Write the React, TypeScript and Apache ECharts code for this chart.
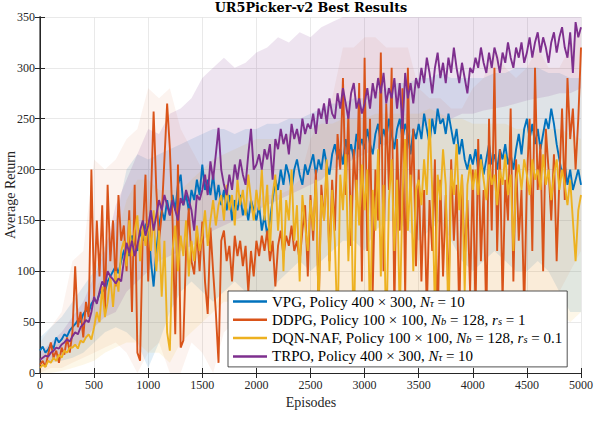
import React, { useEffect, useRef } from "react";
import * as echarts from "echarts";

// ---------- data ----------
const EPISODE_STEP = 25; // line samples every 25 episodes (0..5000)
const BAND_STEP = 100; // band samples every 100 episodes (0..5000)

const X_MIN = 0;
const X_MAX = 5000;
const X_INTERVAL = 500;
const Y_MIN = 0;
const Y_MAX = 350;
const Y_INTERVAL = 50;

const seriesNames = ["VPG", "DDPG", "DQN-NAF", "TRPO"];
const lineColors = ["#0072BD", "#D95319", "#EDB120", "#7E2F8E"];
const bandColors = [
  "rgba(0,114,189,0.12)",
  "rgba(217,83,25,0.07)",
  "rgba(237,177,32,0.10)",
  "rgba(126,47,142,0.13)",
];

const legendLabels = [
  "VPG, Policy 400 × 300, {i|N}{s|τ} = 10",
  "DDPG, Policy 100 × 100, {i|N}{s|b} = 128, {i|r}{s|s} = 1",
  "DQN-NAF, Policy 100 × 100, {i|N}{s|b} = 128, {i|r}{s|s} = 0.1",
  "TRPO, Policy 400 × 300, {i|N}{s|τ} = 10",
];

const titleText = "UR5Picker-v2 Best Results";
const xAxisTitle = "Episodes";
const yAxisTitle = "Average Return";
const captionText = "Fig. 4: Pick&Place Best Results";

const vpg = [
  22, 26, 20, 23, 28, 24, 35, 30, 33, 38, 36, 42, 45, 48, 52, 50, 58, 62, 60, 68,
  72, 70, 78, 82, 80, 90, 95, 100, 105, 98, 110, 120, 125, 115, 135, 128, 120, 140, 130, 145,
  150, 110, 85, 120, 145, 160, 150, 170, 155, 175, 160, 185, 195, 165, 175, 160, 180, 170, 190, 175,
  205, 180, 190, 175, 195, 170, 185, 165, 180, 160, 175, 150, 170, 160, 175, 155, 165, 150, 170, 160,
  150, 165, 140, 155, 135, 150, 170, 190, 180, 200, 185, 205, 195, 180, 200, 210, 195, 185, 205, 195,
  205, 215, 195, 210, 200, 220, 205, 195, 215, 225, 210, 220, 205, 230, 215, 225, 210, 235, 220, 230,
  220, 240, 225, 215, 235, 245, 225, 240, 230, 250, 235, 220, 240, 250, 230, 245, 235, 215, 240, 230,
  245, 230, 255, 240, 225, 250, 235, 260, 245, 250, 235, 255, 240, 225, 240, 215, 230, 210, 200, 215,
  205, 220, 200, 215, 195, 210, 225, 205, 215, 200, 220, 210, 225, 205, 215, 200, 220, 235, 215, 240,
  250, 230, 245, 225, 240, 220, 235, 250, 240, 260, 245, 225, 210, 195, 205, 185, 200, 180, 190, 200,
  185,
];

const ddpg = [
  8, 12, 6, 18, 30, 15, 22, 10, 25, 18, 35, 20, 40, 105, 45, 60, 35, 70, 55, 200,
  75, 150, 95, 165, 60, 185, 110, 150, 85, 175, 130, 145, 100, 160, 60, 185, 20, 12, 140, 195,
  90, 170, 257, 180, 130, 156, 210, 265, 221, 150, 38, 205, 25, 32, 120, 162, 110, 97, 140, 100,
  149, 90, 58, 143, 100, 60, 10, 130, 140, 110, 125, 90, 135, 115, 130, 105, 125, 80, 120, 95,
  130, 115, 135, 120, 140, 110, 130, 85, 125, 140, 115, 135, 125, 145, 120, 130, 110, 140, 165, 95,
  175, 130, 200, 60, 185, 150, 205, 110, 190, 140, 235, 200, 290, 175, 255, 125, 220, 170, 285, 90,
  310, 120, 250, 80, 200, 150, 315, 100, 265, 180, 300, 60, 230, 140, 280, 75, 300, 170, 240, 105,
  200, 90, 180, 60, 170, 120, 210, 40, 190, 95, 175, 70, 210, 130, 185, 55, 195, 110, 170, 80,
  200, 60, 230, 110, 180, 50, 250, 140, 300, 120, 220, 70, 190, 150, 260, 90, 210, 130, 180, 60,
  190, 250, 120, 300, 180, 225, 100, 240, 200, 150, 215, 110, 190, 260, 170, 290, 230, 260, 200, 250,
  320,
];

const dqnNaf = [
  5, 8, 6, 12, 10, 15, 12, 18, 15, 22, 20, 25, 25, 28, 24, 32, 30, 35, 38, 33,
  45, 60, 50, 85, 55, 70, 95, 65, 100, 80, 120, 130, 105, 150, 115, 140, 155, 110, 145, 125,
  150, 120, 160, 100, 140, 75, 130, 40, 22, 120, 145, 100, 135, 115, 150, 95, 130, 110, 145, 120,
  135, 160, 125, 150, 170, 145, 165, 175, 150, 185, 160, 175, 145, 190, 165, 180, 155, 195, 170, 150,
  180, 160, 200, 150, 185, 120, 175, 195, 140, 180, 100, 170, 150, 200, 130, 165, 90, 175, 145, 120,
  170, 140, 190, 60, 175, 150, 210, 100, 180, 130, 40, 195, 160, 215, 110, 175, 30, 190, 145, 205,
  160, 200, 45, 180, 140, 220, 95, 185, 30, 170, 210, 120, 190, 55, 175, 230, 140, 195, 100, 180,
  190, 165, 210, 175, 250, 180, 60, 195, 170, 220, 185, 40, 200, 175, 225, 160, 195, 80, 185, 205,
  180, 200, 175, 210, 190, 170, 205, 185, 195, 165, 200, 185, 215, 175, 195, 120, 190, 205, 180, 210,
  195, 175, 210, 190, 200, 180, 215, 185, 200, 170, 195, 210, 180, 200, 185, 165, 190, 150, 110, 160,
  175,
];

const trpo = [
  13, 15, 17, 16, 20, 22, 25, 24, 28, 30, 33, 31, 36, 40, 38, 45, 48, 52, 50, 60,
  75, 68, 80, 90, 85, 100, 95, 92, 88, 93, 90, 110, 128, 118, 130, 115, 125, 140, 150, 135,
  145, 160, 140, 155, 170, 160, 175, 165, 155, 170, 160, 150, 172, 165, 180, 170, 160, 140, 175, 170,
  180, 195, 175, 208, 190, 215, 241, 200, 185, 175, 195, 180, 205, 190, 210, 195, 185, 215, 240, 200,
  205, 215, 200, 220, 210, 225, 190, 230, 220, 240, 225, 235, 215, 245, 230, 240, 225, 250, 235, 245,
  240, 255, 235, 260, 250, 265, 245, 270, 255, 250, 275, 260, 280, 265, 250, 275, 285, 260, 270, 255,
  265, 280, 260, 285, 270, 290, 275, 295, 265, 280, 270, 290, 260, 285, 240, 295, 270, 285, 265, 290,
  280, 300, 285, 310, 295, 275, 300, 315, 290, 305, 285, 310, 295, 320, 300, 285, 305, 290, 275, 300,
  295, 310, 300, 320, 305, 295, 315, 300, 320, 310, 295, 315, 305, 325, 310, 300, 320, 310, 325, 305,
  315, 330, 310, 325, 335, 315, 330, 320, 305, 325, 335, 315, 330, 340, 320, 310, 335, 295, 345, 330,
  340,
];

// shaded bands (upper / lower), every 100 episodes
const vpgUpper = [
  35, 45, 55, 70, 85, 100, 125, 150, 200, 215, 210, 215, 220, 225, 230, 235, 240, 240, 235, 240,
  240, 245, 245, 250, 250, 255, 260, 265, 265, 270, 270, 275, 280, 285, 285, 290, 290, 295, 290, 290,
  290, 290, 295, 295, 300, 300, 300, 295, 295, 290, 290,
];
const vpgLower = [
  8, 10, 12, 15, 20, 30, 40, 45, 40, 30, 5, 30, 60, 80, 90, 80, 70, 80, 90, 80,
  60, 70, 90, 100, 110, 100, 110, 120, 130, 130, 120, 140, 150, 150, 140, 130, 140, 150, 130, 110,
  100, 110, 120, 110, 100, 100, 110, 100, 80, 60, 60,
];
const ddpgUpper = [
  30, 45, 60, 110, 120, 210, 200, 210, 230, 240, 280, 270, 280, 240, 220, 200, 190, 180, 170, 170,
  170, 175, 175, 180, 190, 230, 250, 270, 320, 320, 330, 330, 320, 320, 320, 280, 270, 270, 260, 260,
  280, 290, 320, 300, 290, 300, 320, 300, 300, 320, 340,
];
const ddpgLower = [
  0, 5, 5, 10, 15, 20, 25, 30, 20, 0, 20, 30, 0, 0, 30, 20, 0, 40, 50, 40,
  60, 60, 50, 60, 50, 40, 20, 40, 60, 30, 40, 30, 40, 20, 30, 30, 20, 10, 20, 30,
  20, 20, 40, 30, 20, 50, 40, 50, 80, 100, 120,
];
const dqnNafUpper = [
  15, 25, 30, 45, 55, 80, 100, 130, 170, 190, 190, 180, 180, 180, 190, 200, 210, 215, 220, 225,
  230, 230, 230, 235, 235, 240, 245, 245, 250, 250, 250, 255, 255, 255, 255, 255, 260, 255, 250, 250,
  245, 245, 245, 245, 240, 240, 240, 240, 240, 235, 230,
];
const dqnNafLower = [
  0, 0, 2, 5, 8, 12, 20, 25, 30, 30, 20, 20, 10, 30, 40, 50, 60, 70, 70, 70,
  60, 50, 50, 40, 40, 20, 20, 10, 10, 10, 10, 10, 10, 10, 20, 30, 30, 20, 30, 40,
  60, 70, 70, 60, 60, 70, 70, 70, 60, 50, 60,
];
const trpoUpper = [
  20, 30, 40, 55, 70, 95, 120, 165, 190, 215, 240, 235, 255, 260, 270, 290, 300, 310, 300, 305,
  315, 320, 330, 325, 335, 330, 340, 345, 350, 350, 350, 350, 350, 350, 350, 350, 350, 350, 350, 350,
  350, 350, 350, 350, 350, 350, 350, 350, 350, 350, 350,
];
const trpoLower = [
  8, 12, 18, 25, 30, 45, 55, 60, 80, 90, 100, 110, 115, 120, 125, 130, 140, 145, 150, 155,
  160, 165, 170, 175, 180, 185, 190, 200, 205, 210, 215, 220, 225, 230, 235, 240, 245, 248, 250, 255,
  255, 258, 260, 262, 265, 268, 270, 272, 275, 275, 280,
];

const lines = [vpg, ddpg, dqnNaf, trpo];
const bands = [
  [vpgUpper, vpgLower],
  [ddpgUpper, ddpgLower],
  [dqnNafUpper, dqnNafLower],
  [trpoUpper, trpoLower],
];

// ---------- styles ----------
const SERIF = "'Liberation Serif', 'DejaVu Serif', serif";
const AXIS_COLOR = "#262626";

function bandSeries(idx: number) {
  const [upper, lower] = bands[idx];
  const color = bandColors[idx];
  return {
    type: "custom",
    name: seriesNames[idx] + " band",
    silent: true,
    clip: true,
    data: upper.map((u: number, i: number) => [i * BAND_STEP, lower[i], u]),
    encode: { x: 0, y: [1, 2] },
    renderItem: (params: any, api: any) => {
      if (params.dataIndex !== 0) return null;
      const top = upper.map((u: number, i: number) => api.coord([i * BAND_STEP, u]));
      const bot = lower
        .map((l: number, i: number) => api.coord([i * BAND_STEP, l]))
        .reverse();
      return {
        type: "polygon",
        shape: { points: top.concat(bot) },
        style: { fill: color, stroke: "none" },
      };
    },
  };
}

function lineSeries(idx: number) {
  return {
    type: "line",
    name: seriesNames[idx],
    data: lines[idx].map((v: number, i: number) => [i * EPISODE_STEP, v]),
    showSymbol: false,
    symbol: "none",
    lineStyle: { color: lineColors[idx], width: 1.9 },
    itemStyle: { color: lineColors[idx] },
    silent: true,
  };
}

export default function App() {
  const ref = useRef<HTMLDivElement>(null);

  useEffect(() => {
    if (!ref.current) return;
    const chart = echarts.init(ref.current, null, {
      renderer: "svg",
      width: 596,
      height: 444,
    });

    const option: any = {
      animation: false,
      backgroundColor: "#ffffff",
      grid: { left: 40, right: 14, top: 17, bottom: 71, containLabel: false },
      xAxis: [
        {
          type: "value",
          min: X_MIN,
          max: X_MAX,
          interval: X_INTERVAL,
          axisLine: { show: true, lineStyle: { color: AXIS_COLOR, width: 1 } },
          axisTick: { show: true, inside: true, length: 5, lineStyle: { color: AXIS_COLOR } },
          axisLabel: {
            fontFamily: SERIF,
            fontSize: 12,
            color: AXIS_COLOR,
            margin: 6,
            formatter: (v: number) => String(v),
          },
          splitLine: { show: true, lineStyle: { color: "#e3e3e3", width: 0.8 } },
        },
        {
          type: "value",
          position: "top",
          min: X_MIN,
          max: X_MAX,
          interval: X_INTERVAL,
          axisLine: { show: true, lineStyle: { color: AXIS_COLOR, width: 1 } },
          axisTick: { show: true, inside: true, length: 5, lineStyle: { color: AXIS_COLOR } },
          axisLabel: { show: false },
          splitLine: { show: false },
        },
      ],
      yAxis: [
        {
          type: "value",
          min: Y_MIN,
          max: Y_MAX,
          interval: Y_INTERVAL,
          axisLine: { show: true, lineStyle: { color: "#808080", width: 2 } },
          axisTick: { show: true, inside: true, length: 5, lineStyle: { color: AXIS_COLOR } },
          axisLabel: {
            fontFamily: SERIF,
            fontSize: 12,
            color: AXIS_COLOR,
            margin: 5,
            formatter: (v: number) => String(v),
          },
          splitLine: { show: true, lineStyle: { color: "#e3e3e3", width: 0.8 } },
        },
        {
          type: "value",
          position: "right",
          min: Y_MIN,
          max: Y_MAX,
          interval: Y_INTERVAL,
          axisLine: { show: true, lineStyle: { color: AXIS_COLOR, width: 1 } },
          axisTick: { show: true, inside: true, length: 5, lineStyle: { color: AXIS_COLOR } },
          axisLabel: { show: false },
          splitLine: { show: false },
        },
      ],
      legend: {
        data: seriesNames,
        orient: "vertical",
        left: 228,
        top: 291,
        padding: [3, 5, 3, 5],
        itemGap: 3.3,
        itemWidth: 34,
        itemHeight: 2.5,
        icon: "rect",
        backgroundColor: "#ffffff",
        borderColor: AXIS_COLOR,
        borderWidth: 0.8,
        borderRadius: 0,
        selectedMode: false,
        formatter: (name: string) => legendLabels[seriesNames.indexOf(name)],
        textStyle: {
          fontFamily: SERIF,
          fontSize: 15,
          lineHeight: 14,
          color: "#000000",
          rich: {
            i: { fontFamily: SERIF, fontSize: 15, fontStyle: "italic", color: "#000000", lineHeight: 14 },
            s: {
              fontFamily: SERIF,
              fontSize: 10.5,
              fontStyle: "italic",
              color: "#000000",
              lineHeight: 6,
              verticalAlign: "bottom",
            },
          },
        },
      },
      graphic: [
        {
          type: "text",
          x: 311,
          y: 1,
          style: {
            text: titleText,
            fontFamily: "'DejaVu Serif', serif",
            fontWeight: "bold",
            fontSize: 12.8,
            fill: "#000000",
            align: "center",
            verticalAlign: "top",
          },
        },
        {
          type: "text",
          x: 311,
          y: 395,
          style: {
            text: xAxisTitle,
            fontFamily: SERIF,
            fontSize: 14,
            fill: "#262626",
            align: "center",
            verticalAlign: "top",
          },
        },
        {
          type: "text",
          x: 10,
          y: 195,
          rotation: Math.PI / 2,
          style: {
            text: yAxisTitle,
            fontFamily: SERIF,
            fontSize: 14,
            fill: "#262626",
            align: "center",
            verticalAlign: "middle",
          },
        },
        {
          type: "text",
          x: 280,
          y: 440.5,
          style: {
            text: captionText,
            fontFamily: SERIF,
            fontSize: 26,
            fill: "#777777",
            align: "center",
            verticalAlign: "top",
          },
        },
      ],
      series: [
        bandSeries(0),
        bandSeries(1),
        bandSeries(2),
        bandSeries(3),
        lineSeries(0),
        lineSeries(1),
        lineSeries(2),
        lineSeries(3),
      ],
    };

    chart.setOption(option);
    return () => {
      chart.dispose();
    };
  }, []);

  return (
    <div
      ref={ref}
      style={{ position: "absolute", left: 0, top: 0, width: 596, height: 444, overflow: "hidden" }}
    />
  );
}
